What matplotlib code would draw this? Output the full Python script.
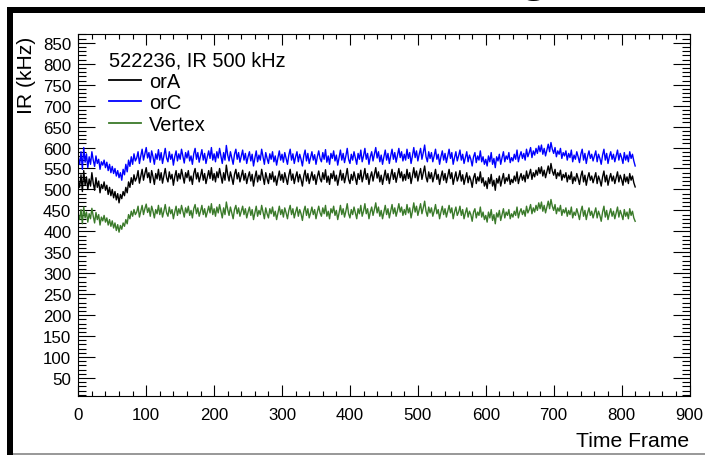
import matplotlib
matplotlib.use("Agg")
import matplotlib.pyplot as plt
from matplotlib.patches import Rectangle
from matplotlib.lines import Line2D
from matplotlib.ticker import MultipleLocator

plt.rcParams['font.family'] = ['Liberation Sans', 'DejaVu Sans']

# ---- data (one value every 2 time frames) ----
frames = list(range(0, 822, 2))

orC = [
    575, 560, 590, 548, 600, 565, 585, 552, 578, 560, 590, 570, 555, 580, 562, 572, 548, 566, 558, 570,
    552, 565, 545, 560, 540, 555, 538, 550, 532, 545, 528, 540, 522, 548, 535, 560, 542, 570, 555, 578,
    560, 585, 568, 575, 590, 562, 580, 596, 570, 585, 600, 575, 588, 565, 592, 578, 560, 585, 572, 595,
    570, 588, 562, 580, 598, 575, 566, 590, 572, 584, 558, 578, 592, 568, 585, 572, 596, 580, 563, 588,
    575, 592, 568, 580, 560, 585, 598, 572, 588, 565, 580, 595, 570, 586, 562, 578, 592, 574, 600, 570,
    585, 566, 590, 575, 598, 580, 562, 588, 570, 605, 582, 568, 590, 575, 560, 584, 596, 572, 588, 565,
    580, 594, 570, 586, 562, 578, 590, 568, 584, 556, 575, 592, 566, 582, 570, 596, 578, 560, 588, 574,
    562, 585, 572, 590, 566, 580, 558, 576, 592, 570, 584, 565, 588, 574, 560, 582, 596, 570, 585, 562,
    578, 590, 566, 584, 572, 556, 580, 594, 568, 586, 562, 576, 590, 570, 583, 560, 578, 592, 574, 566,
    588, 572, 595, 565, 580, 560, 586, 574, 592, 568, 582, 558, 576, 594, 570, 586, 564, 580, 598, 572,
    562, 584, 570, 590, 575, 560, 586, 572, 594, 566, 580, 598, 572, 586, 560, 578, 590, 568, 584, 600,
    575, 590, 566, 582, 560, 578, 594, 570, 586, 562, 580, 596, 572, 588, 565, 582, 598, 576, 590, 568,
    584, 570, 596, 574, 588, 562, 580, 600, 576, 592, 568, 584, 598, 572, 588, 606, 578, 566, 590, 574,
    588, 566, 580, 596, 572, 584, 560, 578, 592, 570, 586, 564, 580, 596, 574, 588, 560, 576, 590, 568,
    580, 594, 570, 584, 562, 576, 590, 566, 582, 572, 556, 578, 588, 564, 580, 570, 592, 566, 578, 560,
    572, 556, 580, 566, 588, 560, 574, 552, 578, 568, 584, 560, 576, 590, 566, 580, 572, 588, 564, 576,
    568, 584, 572, 594, 566, 580, 590, 574, 586, 570, 596, 578, 588, 600, 576, 592, 582, 598, 586, 604,
    590, 606, 584, 598, 580, 594, 608, 590, 612, 596, 586, 600, 578, 592, 584, 598, 574, 588, 580, 592,
    570, 586, 576, 594, 566, 582, 572, 590, 578, 564, 584, 596, 570, 586, 562, 580, 592, 574, 584, 568,
    580, 592, 566, 584, 574, 560, 582, 596, 570, 586, 562, 578, 590, 572, 584, 566, 580, 594, 570, 586,
    576, 562, 588, 570, 582, 566, 590, 574, 584, 568, 556]

orA = [
    520, 505, 535, 495, 545, 510, 530, 500, 525, 508, 540, 515, 498, 528, 505, 520, 492, 512, 502, 518,
    498, 510, 488, 505, 485, 500, 480, 495, 475, 490, 468, 488, 478, 495, 485, 505, 492, 518, 505, 528,
    512, 535, 520, 528, 545, 515, 532, 548, 522, 538, 552, 528, 540, 516, 545, 530, 512, 538, 525, 548,
    522, 540, 515, 532, 550, 528, 518, 542, 525, 536, 510, 530, 545, 520, 538, 525, 548, 532, 515, 540,
    528, 545, 520, 532, 512, 538, 550, 525, 540, 518, 532, 548, 522, 538, 514, 530, 545, 526, 552, 522,
    538, 518, 542, 528, 550, 532, 515, 540, 522, 558, 535, 520, 542, 528, 512, 536, 548, 525, 540, 518,
    532, 546, 522, 538, 514, 530, 542, 520, 536, 508, 528, 544, 518, 534, 522, 548, 530, 512, 540, 526,
    514, 538, 524, 542, 518, 532, 510, 528, 544, 522, 536, 517, 540, 526, 512, 534, 548, 522, 537, 514,
    530, 542, 518, 536, 524, 508, 532, 546, 520, 538, 514, 528, 542, 522, 535, 512, 530, 544, 526, 518,
    540, 524, 547, 517, 532, 512, 538, 526, 544, 520, 534, 510, 528, 546, 522, 538, 516, 532, 550, 524,
    514, 536, 522, 542, 527, 512, 538, 524, 546, 518, 532, 550, 524, 538, 512, 530, 542, 520, 536, 552,
    527, 542, 518, 534, 512, 530, 546, 522, 538, 514, 532, 548, 524, 540, 517, 534, 550, 528, 542, 520,
    536, 522, 548, 526, 540, 514, 532, 552, 528, 544, 520, 536, 550, 524, 540, 556, 530, 518, 542, 526,
    540, 518, 532, 548, 524, 536, 512, 530, 544, 522, 538, 516, 532, 548, 526, 540, 512, 528, 542, 520,
    530, 545, 520, 535, 512, 527, 540, 516, 532, 522, 505, 528, 538, 514, 530, 520, 542, 516, 528, 508,
    520, 502, 528, 514, 536, 508, 522, 498, 526, 515, 532, 508, 524, 538, 514, 528, 520, 536, 512, 524,
    516, 532, 520, 542, 514, 528, 538, 522, 534, 518, 544, 526, 536, 548, 524, 540, 530, 546, 534, 552,
    538, 554, 532, 546, 528, 542, 556, 538, 562, 544, 534, 548, 526, 540, 532, 546, 522, 536, 528, 540,
    518, 534, 524, 542, 514, 530, 520, 538, 526, 512, 532, 544, 518, 534, 510, 528, 540, 522, 532, 516,
    528, 540, 514, 532, 522, 508, 530, 544, 518, 534, 510, 526, 538, 520, 532, 514, 528, 542, 518, 534,
    524, 510, 536, 518, 530, 514, 538, 522, 532, 516, 506]

vertex = [
    440, 428, 452, 418, 458, 432, 446, 422, 442, 430, 455, 436, 420, 445, 428, 440, 415, 434, 425, 438,
    422, 432, 415, 428, 412, 425, 408, 420, 402, 416, 398, 414, 405, 420, 412, 428, 418, 440, 430, 448,
    436, 452, 440, 446, 460, 434, 448, 462, 440, 454, 465, 445, 456, 436, 460, 448, 432, 452, 442, 462,
    440, 456, 434, 448, 464, 444, 436, 458, 442, 452, 430, 446, 460, 438, 454, 442, 462, 448, 434, 456,
    444, 460, 438, 450, 432, 454, 464, 442, 456, 436, 448, 462, 440, 454, 434, 446, 460, 444, 466, 440,
    454, 436, 458, 444, 464, 448, 432, 456, 440, 470, 452, 438, 458, 444, 430, 452, 462, 442, 456, 436,
    448, 460, 440, 454, 432, 446, 458, 438, 452, 428, 444, 460, 436, 450, 440, 462, 446, 430, 456, 442,
    432, 454, 442, 458, 436, 448, 428, 444, 460, 440, 452, 434, 456, 444, 430, 450, 462, 440, 454, 432,
    446, 458, 436, 452, 442, 426, 448, 460, 438, 454, 432, 444, 458, 440, 452, 430, 446, 460, 444, 436,
    456, 442, 462, 436, 448, 430, 454, 444, 460, 438, 450, 428, 444, 462, 440, 454, 434, 448, 466, 442,
    432, 452, 440, 458, 444, 430, 454, 442, 462, 436, 448, 466, 442, 454, 430, 446, 458, 438, 452, 468,
    444, 458, 436, 450, 430, 446, 462, 440, 454, 432, 448, 464, 442, 456, 436, 450, 466, 446, 458, 438,
    452, 440, 464, 444, 456, 432, 448, 468, 446, 460, 438, 452, 466, 442, 456, 472, 448, 436, 458, 444,
    456, 436, 448, 464, 442, 452, 430, 446, 460, 440, 454, 434, 448, 462, 444, 456, 430, 446, 458, 438,
    446, 460, 438, 452, 430, 444, 456, 434, 448, 440, 424, 446, 454, 432, 446, 438, 458, 434, 446, 428,
    438, 422, 446, 432, 452, 426, 440, 418, 444, 434, 450, 426, 440, 454, 432, 446, 438, 452, 430, 442,
    434, 448, 438, 458, 432, 446, 454, 440, 450, 436, 460, 444, 452, 464, 442, 456, 446, 462, 450, 468,
    454, 470, 448, 462, 444, 458, 472, 454, 476, 460, 450, 464, 442, 456, 448, 462, 438, 452, 444, 456,
    436, 450, 440, 458, 432, 446, 438, 454, 442, 428, 448, 460, 436, 450, 428, 444, 456, 438, 448, 432,
    444, 456, 432, 448, 438, 424, 446, 460, 434, 450, 428, 442, 454, 436, 448, 430, 444, 458, 434, 450,
    440, 428, 452, 436, 446, 430, 454, 438, 448, 432, 424]

series_names = ["orA", "orC", "Vertex"]
series_colors = ["#000000", "#0000ff", "#3a7a2a"]
legend_title = "522236, IR 500 kHz"
x_label = "Time Frame"
y_label = "IR (kHz)"

# ---- figure ----
W, H = 705, 456
fig = plt.figure(figsize=(W / 100, H / 100), dpi=100)
fig.patch.set_facecolor("white")

ax_left, ax_right, ax_top, ax_bot = 78.3, 689.5, 35, 397
ax = fig.add_axes([ax_left / W, 1 - ax_bot / H, (ax_right - ax_left) / W, (ax_bot - ax_top) / H])

for vals, name, col in zip([orA, orC, vertex], series_names, series_colors):
    ax.plot(frames, vals, color=col, lw=1.0, label=name)

ax.set_xlim(0, 900)
ax.set_ylim(7, 871)
ax.xaxis.set_major_locator(MultipleLocator(100))
ax.xaxis.set_minor_locator(MultipleLocator(20))
ax.yaxis.set_minor_locator(MultipleLocator(10))
ax.set_yticks(list(range(50, 851, 50)))

ax.tick_params(axis='both', which='both', direction='in', top=True, right=True,
               width=0.8, colors='black', labelsize=12.2)
ax.tick_params(axis='x', which='major', length=7.6, pad=8)
ax.tick_params(axis='x', which='minor', length=3.8)
ax.tick_params(axis='y', which='major', length=12.2, pad=5)
ax.tick_params(axis='y', which='minor', length=6.1)
for s in ax.spines.values():
    s.set_linewidth(0.8)

ax.set_xlabel(x_label, fontsize=15.2, ha='right')
ax.xaxis.set_label_coords(1.0, -0.124)
ax.xaxis.label.set_va('center')

ax.set_ylabel(y_label, fontsize=15.2, loc='top')
ax.yaxis.set_label_coords(-0.069, 0.994)

handles = [Line2D([], [], color=c, lw=1.3) for c in series_colors]
leg = ax.legend(handles, series_names, title=legend_title, loc='upper left',
                bbox_to_anchor=(0.050, 0.955), frameon=False, fontsize=14.4,
                title_fontsize=14.4, handlelength=1.6, handletextpad=0.4,
                labelspacing=0.13, borderpad=0, borderaxespad=0, alignment='left')

# ---- screenshot frame decorations ----
fig.add_artist(Rectangle((7 / W, 1 - 14 / H), (W - 7) / W, 6 / H,
                         transform=fig.transFigure, color='black', lw=0))
fig.add_artist(Rectangle((7 / W, 0), 6 / W, 1 - 8 / H,
                         transform=fig.transFigure, color='black', lw=0))
fig.add_artist(Rectangle((13 / W, 0), (W - 13) / W, 2 / H,
                         transform=fig.transFigure, color='#9a9a9a', lw=0))
fig.text(534 / W, 1 + 9 / H, "g", fontsize=36, fontweight='bold',
         ha='center', va='baseline', color='black')

fig.savefig("out.png", dpi=100, facecolor="white")
